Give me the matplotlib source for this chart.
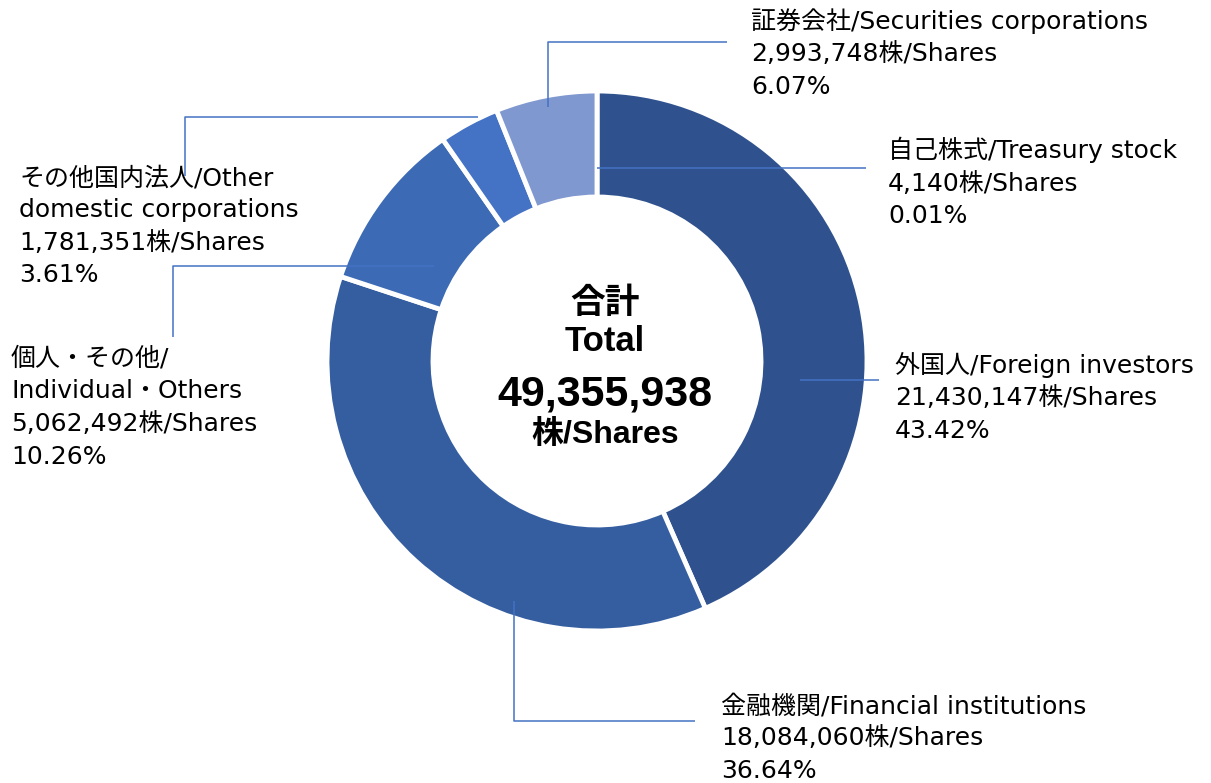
import matplotlib
matplotlib.use("Agg")
import matplotlib.pyplot as plt

plt.rcParams['font.family'] = ['DejaVu Sans', 'Noto Sans CJK JP']

# Shareholder composition (shares held)
names = ["自己株式/Treasury stock", "外国人/Foreign investors", "金融機関/Financial institutions",
         "個人・その他/\nIndividual・Others", "その他国内法人/Other\ndomestic corporations",
         "証券会社/Securities corporations"]
shares = [4140, 21430147, 18084060, 5062492, 1781351, 2993748]
percents = ["0.01%", "43.42%", "36.64%", "10.26%", "3.61%", "6.07%"]
total = 49355938
colors = ["#4472C4", "#2F528F", "#355EA1", "#3C6AB4", "#4472C4", "#7F98CF"]

W, H = 1211, 783
fig = plt.figure(figsize=(W / 100, H / 100), dpi=100)
ax = fig.add_axes([0, 0, 1, 1])

cx, cy, r = 597, H - 361, 270
ax.pie(shares, colors=colors, startangle=90, counterclock=False,
       center=(cx, cy), radius=r,
       wedgeprops=dict(width=106, edgecolor="white", linewidth=3.5))
ax.set_xlim(0, W)
ax.set_ylim(0, H)
ax.set_aspect("equal")
ax.axis("off")

# center total
bold = dict(ha="center", va="baseline", fontweight="bold",
            family=['Liberation Sans', 'Noto Sans CJK JP'])
ax.text(605, H - 313, "合計", fontsize=25, **bold)
ax.text(605, H - 351, "Total", fontsize=25, **bold)
ax.text(605, H - 405, f"{total:,}", fontsize=31, **bold)
ax.text(605, H - 443, "株/Shares", fontsize=23, **bold)

# leader lines (y measured from top)
leaders = [
    [(597, 168), (866, 168)],
    [(800, 380), (879, 380)],
    [(514, 601), (514, 721), (695, 721)],
    [(434, 266), (173, 266), (173, 337)],
    [(478, 117), (185, 117), (185, 176)],
    [(548, 107), (548, 42), (727, 42)],
]
for pts in leaders:
    xs = [p[0] for p in pts]
    ys = [H - p[1] for p in pts]
    ax.plot(xs, ys, color="#4472C4", lw=1.1, solid_capstyle="butt")

# label blocks: left x and first baseline (from top)
label_pos = [(888, 158), (895, 373), (721, 713), (11, 366), (19, 185), (751, 29)]
step = 32.5
for name, n, pct, (lx, ly) in zip(names, shares, percents, label_pos):
    lines = name.split("\n") + [f"{n:,}株/Shares", pct]
    for i, s in enumerate(lines):
        ax.text(lx, H - (ly + i * step), s, ha="left", va="baseline", fontsize=18)

fig.savefig("out.png", dpi=100)
